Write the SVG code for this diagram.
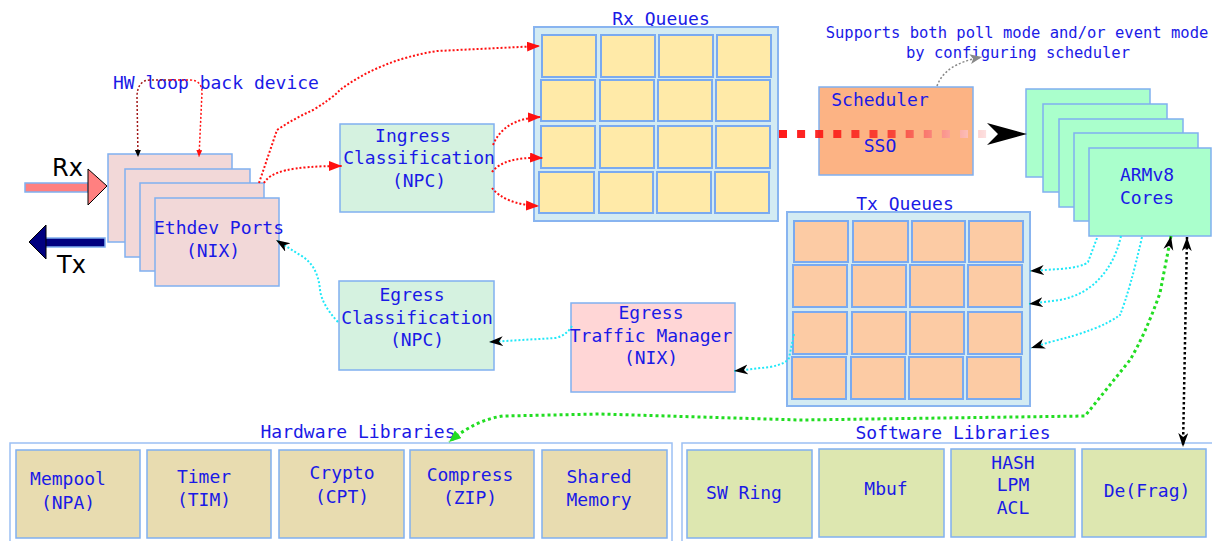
<svg xmlns="http://www.w3.org/2000/svg" width="1212" height="541" viewBox="0 0 1212 541">
<style>
text{font-family:"DejaVu Sans Mono","Liberation Mono",monospace;font-size:18px;fill:#1a1ae6;text-anchor:middle}
.sm{font-size:15.5px}
.big{font-family:"DejaVu Sans","Liberation Sans",sans-serif;font-size:24px;fill:#000;text-anchor:start}
.box{stroke:#80b0f0;stroke-width:1.5}
.eth{fill:#f2d8d8}
.cls{fill:#d5f2e0}
.cont{fill:#d3ebf3;stroke:#88b4f0;stroke-width:2}
.rxc{fill:#ffeaa8;stroke:#7aaaf0;stroke-width:2}
.txc{fill:#fccba4;stroke:#7aaaf0;stroke-width:2}
.arm{fill:#aaffcc}
.hw{fill:#e8dcb0}
.sw{fill:#dde7b0}
.lib{fill:#fff;stroke:#9cc0f4;stroke-width:1.5}
.red{fill:none;stroke:#ff1010;stroke-width:2;stroke-dasharray:2 2}
.cy{fill:none;stroke:#20e8f8;stroke-width:2;stroke-dasharray:2 2}
</style>
<defs>
<marker id="ar" markerUnits="userSpaceOnUse" markerWidth="14" markerHeight="12" refX="13" refY="5" orient="auto"><path d="M0,0 L13,5 L0,10 z" fill="#ff1010"/></marker>
<marker id="ars" markerUnits="userSpaceOnUse" markerWidth="8" markerHeight="8" refX="7" refY="3" orient="auto"><path d="M0,0 L7,3 L0,6 z" fill="#ff1010"/></marker>
<marker id="abs" markerUnits="userSpaceOnUse" markerWidth="8" markerHeight="8" refX="7" refY="3" orient="auto"><path d="M0,0 L7,3 L0,6 z" fill="#000"/></marker>
<marker id="ab" markerUnits="userSpaceOnUse" markerWidth="16" markerHeight="12" refX="14" refY="5" orient="auto-start-reverse"><path d="M0,0 L14,5 L0,10 L4,5 z" fill="#000"/></marker>
<marker id="ag" markerUnits="userSpaceOnUse" markerWidth="14" markerHeight="12" refX="12" refY="5" orient="auto"><path d="M0,0 L12,5 L0,10 z" fill="#22dd22"/></marker>
<marker id="agr" markerUnits="userSpaceOnUse" markerWidth="14" markerHeight="12" refX="12" refY="5" orient="auto"><path d="M0,0 L12,5 L0,10 L3,5 z" fill="#888"/></marker>
<linearGradient id="fade" gradientUnits="userSpaceOnUse" x1="778" y1="134" x2="987" y2="134">
<stop offset="0" stop-color="#ff0000"/><stop offset="0.55" stop-color="#f83a30"/><stop offset="1" stop-color="#fde0e0"/>
</linearGradient>
</defs>
<rect width="1212" height="541" fill="#fff"/>

<g id="rx-arrow">
<rect x="25" y="183" width="63" height="9" fill="#ff8080" stroke="#80b0f0" stroke-width="1.5"/>
<polygon points="88,169 107,186 88,205" fill="#ff8080" stroke="#000" stroke-width="1"/>
<text class="big" x="52" y="176">Rx</text>
</g>
<g id="tx-arrow">
<rect x="45" y="238" width="60" height="9" fill="#000080" stroke="#80b0f0" stroke-width="1.5"/>
<polygon points="46,225 29,242 46,259" fill="#000080" stroke="#000" stroke-width="1"/>
<text class="big" x="57" y="273">Tx</text>
</g>

<g id="hw-loop-label"><text x="113" y="89" style="text-anchor:start">HW loop back device</text></g>

<g id="ethdev">
<rect class="box eth" x="108" y="154" width="124" height="88"/>
<rect class="box eth" x="125" y="169" width="125" height="88"/>
<rect class="box eth" x="140" y="183" width="124" height="88"/>
<rect class="box eth" x="155" y="198" width="124" height="88"/>
<text x="219" y="234">Ethdev Ports</text>
<text x="213" y="257">(NIX)</text>
</g>

<g id="ingress">
<rect class="box cls" x="340" y="124" width="154" height="88"/>
<text x="413" y="142">Ingress</text>
<text x="419" y="164">Classification</text>
<text x="419" y="187">(NPC)</text>
</g>

<g id="rx-queues">
<text x="661" y="25">Rx Queues</text>
<rect class="cont" x="534" y="27" width="244" height="194"/>
<rect class="rxc" x="542" y="35" width="54" height="42"/><rect class="rxc" x="601" y="35" width="54" height="42"/><rect class="rxc" x="659" y="35" width="54" height="42"/><rect class="rxc" x="717" y="35" width="54" height="42"/>
<rect class="rxc" x="541" y="80" width="54" height="41"/><rect class="rxc" x="600" y="80" width="54" height="41"/><rect class="rxc" x="658" y="80" width="54" height="41"/><rect class="rxc" x="716" y="80" width="54" height="41"/>
<rect class="rxc" x="541" y="126" width="54" height="42"/><rect class="rxc" x="600" y="126" width="54" height="42"/><rect class="rxc" x="658" y="126" width="54" height="42"/><rect class="rxc" x="716" y="126" width="54" height="42"/>
<rect class="rxc" x="539" y="172" width="55" height="41"/><rect class="rxc" x="599" y="172" width="54" height="41"/><rect class="rxc" x="657" y="172" width="54" height="41"/><rect class="rxc" x="715" y="172" width="54" height="41"/>
</g>

<g id="scheduler">
<rect class="box" x="819" y="87" width="154" height="88" fill="#fcb384"/>
<text x="880" y="106">Scheduler</text>
<text x="880" y="152">SSO</text>
</g>

<g id="note"><text class="sm" x="1017" y="38">Supports both poll mode and/or event mode</text>
<text class="sm" x="1018" y="58">by configuring scheduler</text></g>

<g id="armv8">
<rect class="box arm" x="1026" y="89" width="124" height="88"/>
<rect class="box arm" x="1043" y="104" width="124" height="88"/>
<rect class="box arm" x="1059" y="119" width="124" height="88"/>
<rect class="box arm" x="1074" y="133" width="124" height="88"/>
<rect class="box arm" x="1089" y="148" width="122" height="88"/>
<text x="1147" y="181">ARMv8</text>
<text x="1147" y="204">Cores</text>
</g>

<g id="tx-queues">
<text x="905" y="210">Tx Queues</text>
<rect class="cont" x="787" y="212" width="243" height="194"/>
<rect class="txc" x="794" y="221" width="54" height="41"/><rect class="txc" x="853" y="221" width="55" height="41"/><rect class="txc" x="912" y="221" width="53" height="41"/><rect class="txc" x="969" y="221" width="54" height="41"/>
<rect class="txc" x="793" y="265" width="54" height="42"/><rect class="txc" x="852" y="265" width="54" height="42"/><rect class="txc" x="910" y="265" width="54" height="42"/><rect class="txc" x="968" y="265" width="54" height="42"/>
<rect class="txc" x="793" y="312" width="54" height="42"/><rect class="txc" x="852" y="312" width="54" height="42"/><rect class="txc" x="910" y="312" width="54" height="42"/><rect class="txc" x="968" y="312" width="54" height="42"/>
<rect class="txc" x="792" y="357" width="54" height="42"/><rect class="txc" x="851" y="357" width="54" height="42"/><rect class="txc" x="909" y="357" width="54" height="42"/><rect class="txc" x="967" y="357" width="54" height="42"/>
</g>

<g id="egress-tm">
<rect class="box" x="571" y="303" width="164" height="89" fill="#ffd6d6"/>
<text x="651" y="319">Egress</text>
<text x="651" y="342">Traffic Manager</text>
<text x="651" y="364">(NIX)</text>
</g>

<g id="egress-cls">
<rect class="box cls" x="339" y="281" width="155" height="89"/>
<text x="412" y="301">Egress</text>
<text x="417" y="324">Classification</text>
<text x="417" y="346">(NPC)</text>
</g>

<g id="hw-libs">
<text x="358" y="438">Hardware Libraries</text>
<rect class="lib" x="10" y="443" width="662" height="100"/>
<g id="mempool"><rect class="box hw" x="16" y="450" width="124" height="88"/><text x="68" y="485">Mempool</text><text x="68" y="509">(NPA)</text></g>
<g id="timer"><rect class="box hw" x="147" y="450" width="124" height="88"/><text x="204" y="483">Timer</text><text x="204" y="506">(TIM)</text></g>
<g id="crypto"><rect class="box hw" x="279" y="450" width="125" height="88"/><text x="342" y="479">Crypto</text><text x="342" y="503">(CPT)</text></g>
<g id="compress"><rect class="box hw" x="410" y="450" width="124" height="88"/><text x="470" y="481">Compress</text><text x="470" y="504">(ZIP)</text></g>
<g id="shared"><rect class="box hw" x="542" y="450" width="125" height="88"/><text x="599" y="483">Shared</text><text x="599" y="506">Memory</text></g>
</g>

<g id="sw-libs">
<text x="953" y="439">Software Libraries</text>
<rect class="lib" x="682" y="443" width="532" height="100"/>
<g id="swring"><rect class="box sw" x="687" y="450" width="125" height="88"/><text x="744" y="499">SW Ring</text></g>
<g id="mbuf"><rect class="box sw" x="819" y="449" width="125" height="88"/><text x="886" y="495">Mbuf</text></g>
<g id="hash"><rect class="box sw" x="951" y="449" width="124" height="88"/><text x="1013" y="469">HASH</text><text x="1013" y="491">LPM</text><text x="1013" y="514">ACL</text></g>
<g id="defrag"><rect class="box sw" x="1082" y="449" width="124" height="88"/><text x="1147" y="497">De(Frag)</text></g>
</g>

<g id="connectors">
<path d="M170,80 L150,80 C141,80 137,87 137,97 L138,157" fill="none" stroke="#a01818" stroke-width="1.5" stroke-dasharray="2 2" marker-end="url(#abs)"/>
<path d="M170,80 L190,80 C198,80 202,85 202,92 L199,157" fill="none" stroke="#ff1010" stroke-width="1.5" stroke-dasharray="2 2" marker-end="url(#ars)"/>
<path class="red" d="M259,183 L277,130 Q295,118 313,110 Q330,100 340,90 Q380,60 437,51 L540,46" marker-end="url(#ar)"/>
<path class="red" d="M264,183 C270,172 290,166 342,166" marker-end="url(#ar)"/>
<path class="red" d="M493,145 C500,128 515,118 541,117" marker-end="url(#ar)"/>
<path class="red" d="M492,172 C500,162 515,157 543,158" marker-end="url(#ar)"/>
<path class="red" d="M492,188 C500,198 515,205 539,206" marker-end="url(#ar)"/>
<line x1="779" y1="134" x2="987" y2="134" stroke="url(#fade)" stroke-width="8" stroke-dasharray="8 10.1" opacity="0.9"/>
<polygon points="987,123 1027,134 987,145 998,134" fill="#000"/>
<path d="M937,86 C942,72 955,62 982,57" fill="none" stroke="#888" stroke-width="1.5" stroke-dasharray="2 2" marker-end="url(#agr)"/>
<path class="cy" d="M1097,238 L1088,262 Q1083,267 1060,269 L1030,271" marker-end="url(#ab)"/>
<path class="cy" d="M1121,236 Q1115,262 1100,278 Q1085,295 1060,300 L1029,304" marker-end="url(#ab)"/>
<path class="cy" d="M1142,237 Q1130,290 1120,315 Q1100,330 1050,342 L1031,348" marker-end="url(#ab)"/>
<path class="cy" d="M794,334 L789,358 Q786,364 770,367 L734,371" marker-end="url(#ab)"/>
<path class="cy" d="M572,326 Q566,336 555,338 L489,342" marker-end="url(#ab)"/>
<path class="cy" d="M338,322 Q322,305 320,290 Q318,265 300,255 L276,240" marker-end="url(#ab)"/>
<path d="M1171,236 L1160,293 Q1145,335 1130,360 L1085,416 L800,420 L600,414 L503,416 Q475,420 449,442" fill="none" stroke="#22dd22" stroke-width="3" stroke-dasharray="3 3" marker-start="url(#ab)" marker-end="url(#ag)"/>
<path d="M1187,237 L1183,447" fill="none" stroke="#000" stroke-width="2.5" stroke-dasharray="2.5 2.5" marker-start="url(#ab)" marker-end="url(#ab)"/>
</g>
</svg>
